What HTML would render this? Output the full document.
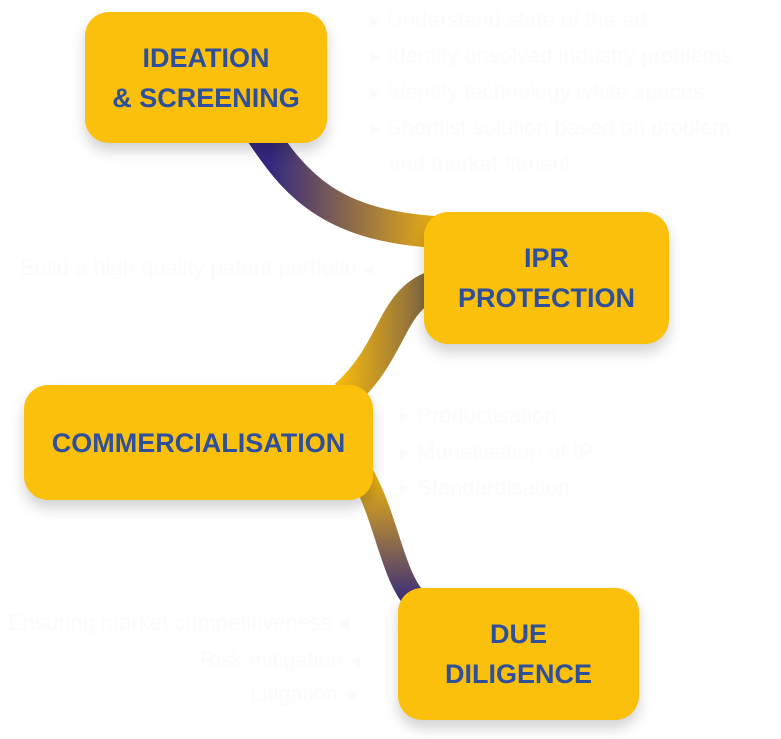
<!DOCTYPE html>
<html><head><meta charset="utf-8"><style>
body{margin:0;width:781px;height:739px;background:#fff;position:relative;overflow:hidden;font-family:"Liberation Sans",sans-serif}
.box{position:absolute;background:#FBC00B;border-radius:24px;box-shadow:0 8px 14px rgba(0,0,0,0.18);display:flex;align-items:center;justify-content:center;text-align:center;color:#2E4F9B;font-weight:bold;font-size:27px;line-height:40px;letter-spacing:0px}
.faint{position:absolute;color:#fbfbfb;font-size:22px;line-height:36px;white-space:nowrap}
</style></head><body>
<div class="faint" style="left:370px;top:2px">▸ Understand state of the art<br>▸ Identify unsolved industry problems<br>▸ Identify technology white spaces<br>▸ Shortlist solution based on problem<br>&nbsp;&nbsp;&nbsp;and market fitment</div>
<div class="faint" style="left:20px;top:250px">Build a high quality patent portfolio ◂</div>
<div class="faint" style="left:400px;top:398px">▸ Productisation<br>▸ Monetisation of IP<br>▸ Standardisation</div>
<div class="faint" style="left:8px;top:605px">Ensuring market competitiveness ◂</div>
<div class="faint" style="left:200px;top:642px">Risk mitigation ◂</div>
<div class="faint" style="left:250px;top:676px">Litigation ◂</div>
<svg width="781" height="739" style="position:absolute;left:0;top:0">
<defs>
<linearGradient id="g1" x1="270" y1="0" x2="430" y2="0" gradientUnits="userSpaceOnUse"><stop offset="0" stop-color="#35287F"/><stop offset="1" stop-color="#E3AA16"/></linearGradient>
<linearGradient id="g2" x1="340" y1="0" x2="430" y2="0" gradientUnits="userSpaceOnUse"><stop offset="0" stop-color="#F6B90F"/><stop offset="1" stop-color="#7A6146"/></linearGradient>
<linearGradient id="g3" x1="0" y1="480" x2="0" y2="600" gradientUnits="userSpaceOnUse"><stop offset="0" stop-color="#E7AE15"/><stop offset="1" stop-color="#3A2E7A"/></linearGradient>
</defs>
<path d="M258,128 C295,185 330,225 435,232" stroke="url(#g1)" stroke-width="32" fill="none"/>
<path d="M345,395 C395,350 390,300 435,285" stroke="url(#g2)" stroke-width="30" fill="none"/>
<path d="M362,475 C388,520 392,580 420,605" stroke="url(#g3)" stroke-width="24" fill="none"/>
</svg>
<div class="box" style="left:85px;top:12px;width:242px;height:131px">IDEATION<br>&amp; SCREENING</div>
<div class="box" style="left:424px;top:212px;width:245px;height:132px">IPR<br>PROTECTION</div>
<div class="box" style="left:24px;top:385px;width:349px;height:115px">COMMERCIALISATION</div>
<div class="box" style="left:398px;top:588px;width:241px;height:132px">DUE<br>DILIGENCE</div>
</body></html>
